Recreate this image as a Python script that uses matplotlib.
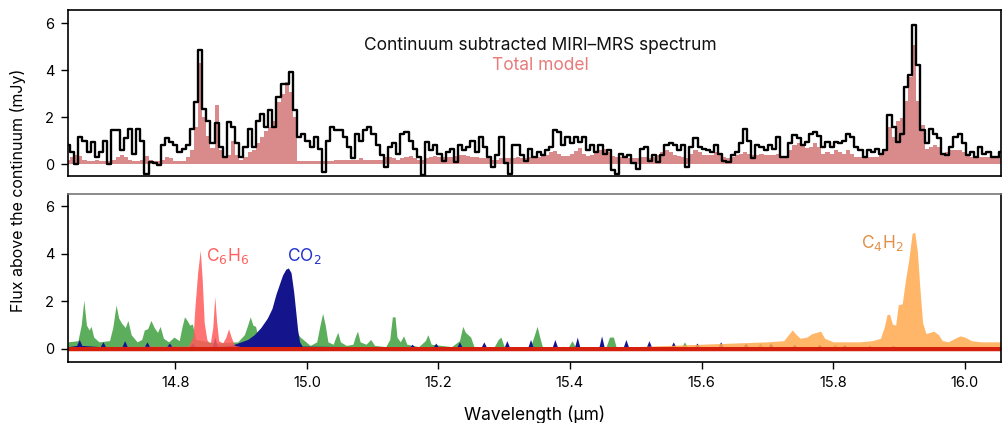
import numpy as np
import matplotlib.pyplot as plt

plt.rcParams['font.family'] = ['Inter', 'DejaVu Sans']

# wavelength grid of the extracted spectrum (µm)
wl_start, wl_stop, n_chan = 14.637, 16.055, 227

# continuum subtracted MIRI-MRS spectrum (mJy)
obs_flux = [
    0.8, 0.5, 0.0, 1.15, 1.0, 0.5, 0.95, 0.3, 0.5, 1.0,
    0.0, 1.45, 1.45, 0.6, 1.1, 1.5, 0.45, 1.5, 1.0, -0.4,
    0.1, 0.05, -0.05, 0.8, 1.1, 0.95, 0.8, 0.5, 0.65, 0.8,
    1.5, 2.65, 4.85, 2.35, 1.85, 0.9, 1.75, 0.75, 0.3, 1.8,
    1.6, 0.9, 0.3, 0.75, 1.5, 0.75,
    1.85, 2.15, 1.6, 2.3, 1.6, 2.85, 3.4, 3.4, 3.9, 2.3,
    1.15, 1.3, 1.0, 0.75, 1.15, 0.65, -0.35, 1.0, 1.6, 1.45,
    1.45, 1.15, 0.75, 0.25, 1.3, 1.0, 1.45, 1.6, 1.3, 0.8,
    0.4, -0.1, 0.75, 0.9, 0.45, 1.3, 1.35, 1.0, 0.65, 0.3,
    -0.45, 0.95, 0.6, 0.8, 0.45,
    0.15, 0.5, 0.65, 0.1, 0.8, 0.6, 0.75, 1.0, 0.5, 1.15,
    0.75, 0.3, -0.1, 0.4, 1.15, 0.05, -0.4, 0.8, 0.8, 0.4,
    0.15, 0.65, 0.3, 0.5, 0.4, 0.6, 0.75, 1.45, 1.35, 0.8,
    1.15, 0.9, 1.15, 0.95, 1.15, 0.6, 0.8, 0.5, 0.8, 0.45,
    0.6, -0.25, -0.4, 0.45, 0.3,
    0.4, 0.05, -0.2, 0.65, 0.75, 0.15, 0.4, 0.1, 0.4, 0.8,
    0.9, 0.8, 0.6, 0.8, -0.1, 0.75, 1.1, 0.75, 0.65, 0.6,
    0.5, 0.8, 0.45, 0.15, 0.1, 0.4, 0.5, 0.9, 1.5, 1.0,
    0.25, 0.8, 0.75, 0.6, 0.8, 0.65, 1.15, 0.3, 0.3, 0.9,
    1.25, 1.1, 0.8, 0.95, 1.3,
    1.35, 1.2, 0.75, 0.95, 0.75, 0.95, 0.9, 1.0, 1.3, 1.15,
    0.75, 0.6, 0.3, 0.6, 0.5, 0.65, 0.45, 0.6, 2.1, 1.6,
    0.95, 1.3, 3.3, 3.8, 5.9, 4.2, 1.45, 0.9, 1.5, 1.3,
    1.1, 0.45, 0.4, 0.75, 1.15, 1.3, 0.9, 0.4, 0.5, 0.3,
    0.75, 0.45, 0.5, 0.3, 0.3, 0.5,
]

# total slab model (mJy)
model_flux = [
    0.2, 0.3, 0.4, 0.35, 0.2, 0.15, 0.15, 0.2, 0.15, 0.15,
    0.15, 0.2, 0.3, 0.4, 0.3, 0.2, 0.15, 0.15, 0.2, 0.35,
    0.2, 0.15, 0.15, 0.2, 0.3, 0.25, 0.15, 0.15, 0.15, 0.3,
    0.6, 1.6, 4.3, 2.0, 1.2, 0.7, 2.5, 0.6, 0.25, 0.4,
    1.0, 0.4, 0.2, 0.3, 0.5, 0.6,
    0.9, 1.15, 1.4, 1.6, 1.85, 2.65, 3.0, 3.5, 3.05, 2.0,
    0.15, 0.15, 0.15, 0.15, 0.15, 0.15, 0.15, 0.15, 0.15, 0.2,
    0.2, 0.2, 0.2, 0.2, 0.2, 0.25, 0.2, 0.2, 0.2, 0.2,
    0.2, 0.3, 0.3, 0.25, 0.2, 0.25, 0.3, 0.35, 0.25, 0.2,
    0.2, 0.25, 0.3, 0.35, 0.3,
    0.3, 0.3, 0.3, 0.35, 0.4, 0.4, 0.35, 0.3, 0.3, 0.25,
    0.25, 0.25, 0.2, 0.2, 0.25, 0.25, 0.25, 0.25, 0.3, 0.25,
    0.25, 0.3, 0.3, 0.3, 0.35, 0.4, 0.5, 0.55, 0.45, 0.35,
    0.35, 0.45, 0.55, 0.7, 0.45, 0.35, 0.4, 0.5, 0.6, 0.65,
    0.5, 0.35, 0.3, 0.3, 0.35,
    0.25, 0.25, 0.25, 0.3, 0.3, 0.25, 0.3, 0.4, 0.5, 0.6,
    0.5, 0.4, 0.35, 0.3, 0.25, 0.45, 0.6, 0.5, 0.4, 0.4,
    0.4, 0.5, 0.45, 0.3, 0.25, 0.3, 0.4, 0.45, 0.5, 0.45,
    0.4, 0.4, 0.45, 0.4, 0.4, 0.4, 0.45, 0.35, 0.35, 0.6,
    0.8, 0.9, 0.8, 0.7, 0.75,
    0.9, 0.75, 0.45, 0.5, 0.45, 0.6, 0.5, 0.45, 0.6, 0.45,
    0.3, 0.3, 0.3, 0.3, 0.3, 0.3, 0.4, 0.6, 1.6, 1.15,
    1.85, 1.95, 2.7, 3.7, 5.05, 2.7, 1.65, 0.65, 0.75, 0.8,
    0.75, 0.45, 0.5, 0.6, 0.6, 0.6, 0.5, 0.4, 0.3, 0.3,
    0.3, 0.3, 0.3, 0.25, 0.3, 0.3,
]

# individual molecular contributions (wavelength in µm, flux in mJy)
h2o_wl = [14.637, 14.652, 14.657, 14.661, 14.665, 14.669, 14.672, 14.676, 14.684,
          14.700, 14.705, 14.710, 14.714, 14.718, 14.724, 14.728, 14.733, 14.742,
          14.749, 14.753, 14.758, 14.763, 14.768, 14.773, 14.777, 14.782, 14.790,
          14.798, 14.806, 14.810, 14.814, 14.818, 14.822, 14.826, 14.831, 14.860,
          14.895, 14.905, 14.910, 14.914, 14.918, 14.922, 14.926, 14.931, 14.945,
          14.965, 14.975, 14.990, 15.005, 15.015, 15.020, 15.024, 15.028, 15.032,
          15.040, 15.044, 15.047, 15.051, 15.060, 15.070, 15.074, 15.077, 15.081,
          15.090, 15.097, 15.103, 15.120, 15.126, 15.130, 15.134, 15.137, 15.142,
          15.147, 15.152, 15.170, 15.180, 15.184, 15.189, 15.220, 15.232, 15.237,
          15.241, 15.249, 15.254, 15.285, 15.291, 15.295, 15.300, 15.340, 15.346,
          15.350, 15.354, 15.358, 15.398, 15.403, 15.408, 15.455, 15.460, 15.466,
          15.470, 15.570, 15.574, 15.578, 15.685, 15.689, 15.693, 15.799, 15.803,
          15.806, 16.055]
h2o_flux = [0.3, 0.35, 1.0, 2.05, 1.0, 0.8, 0.95, 0.5, 0.3,
            0.35, 0.9, 1.85, 1.3, 1.1, 0.9, 1.2, 0.6, 0.3,
            0.4, 0.8, 0.85, 1.2, 0.9, 0.7, 0.95, 0.45, 0.3,
            0.5, 0.35, 0.9, 1.35, 1.2, 1.0, 1.05, 0.4, 0.25,
            0.3, 0.6, 1.0, 1.35, 1.0, 0.95, 0.5, 0.5, 0.7,
            0.8, 1.05, 0.5, 0.15, 0.3, 1.0, 1.5, 1.0, 0.3,
            0.2, 0.5, 0.7, 0.3, 0.15, 0.2, 0.55, 0.75, 0.3,
            0.2, 0.4, 0.15, 0.1, 0.4, 1.35, 1.35, 0.5, 0.3,
            0.55, 0.2, 0.1, 0.35, 0.6, 0.2, 0.1, 0.35, 0.95,
            0.7, 0.5, 0.1, 0.1, 0.4, 0.5, 0.1, 0.1, 0.6,
            0.95, 0.5, 0.1, 0.1, 0.35, 0.1, 0.1, 0.5, 0.5,
            0.1, 0.1, 0.3, 0.1, 0.1, 0.25, 0.1, 0.1, 0.2,
            0.1, 0.1]

co2_wl = [14.637, 14.650, 14.654, 14.658, 14.686, 14.690, 14.694, 14.719, 14.723,
          14.727, 14.753, 14.757, 14.761, 14.787, 14.791, 14.795, 14.822, 14.826,
          14.830, 14.856, 14.860, 14.864, 14.880, 14.890, 14.900, 14.910, 14.920,
          14.930, 14.940, 14.947, 14.953, 14.958, 14.963, 14.968, 14.972, 14.976,
          14.980, 14.983, 14.986, 14.989, 14.993, 15.156, 15.160, 15.164, 15.192,
          15.196, 15.200, 15.228, 15.232, 15.236, 15.265, 15.269, 15.273, 15.300,
          15.304, 15.308, 15.336, 15.340, 15.344, 15.373, 15.377, 15.381, 15.407,
          15.411, 15.415, 15.444, 15.448, 15.452, 15.481, 15.485, 15.489, 15.516,
          15.520, 15.524, 15.553, 15.557, 15.561, 15.589, 15.593, 15.597, 15.625,
          15.629, 15.633, 15.663, 15.667, 15.671, 15.701, 15.705, 15.709, 15.737,
          15.741, 15.745, 15.775, 15.779, 15.783, 15.813, 15.817, 15.821, 15.851,
          15.855, 15.859, 15.887, 15.891, 15.895, 16.055]
co2_flux = [0.1, 0.15, 0.4, 0.15, 0.1, 0.3, 0.1, 0.1, 0.35,
            0.1, 0.1, 0.3, 0.1, 0.1, 0.25, 0.1, 0.1, 0.25,
            0.1, 0.1, 0.5, 0.1, 0.15, 0.2, 0.3, 0.4, 0.6,
            0.9, 1.3, 1.7, 2.3, 2.7, 3.1, 3.35, 3.4, 3.2,
            2.4, 1.6, 0.8, 0.3, 0.12, 0.08, 0.2, 0.08, 0.08,
            0.25, 0.08, 0.08, 0.3, 0.08, 0.08, 0.3, 0.08, 0.08,
            0.35, 0.08, 0.08, 0.4, 0.08, 0.08, 0.4, 0.08, 0.08,
            0.5, 0.08, 0.08, 0.55, 0.08, 0.08, 0.4, 0.08, 0.08,
            0.35, 0.08, 0.08, 0.3, 0.08, 0.08, 0.25, 0.08, 0.08,
            0.3, 0.08, 0.08, 0.25, 0.08, 0.08, 0.25, 0.08, 0.08,
            0.2, 0.08, 0.08, 0.2, 0.08, 0.08, 0.18, 0.08, 0.08,
            0.15, 0.08, 0.08, 0.15, 0.08, 0.08]

c6h6_wl = [14.637, 14.820, 14.827, 14.830, 14.834, 14.838, 14.841, 14.844, 14.848,
           14.853, 14.857, 14.860, 14.863, 14.866, 14.872, 14.877, 14.881, 14.885,
           14.890, 14.900, 16.055]
c6h6_flux = [0.1, 0.12, 0.5, 1.8, 3.2, 4.15, 2.9, 1.1, 0.4,
             0.2, 0.9, 2.2, 1.1, 0.35, 0.25, 0.5, 0.85, 0.5,
             0.15, 0.1, 0.1]

c4h2_wl = [14.637, 15.450, 15.500, 15.550, 15.600, 15.650, 15.700, 15.725, 15.732,
           15.738, 15.744, 15.750, 15.760, 15.768, 15.775, 15.781, 15.787, 15.800,
           15.840, 15.860, 15.872, 15.878, 15.882, 15.886, 15.890, 15.895, 15.899,
           15.905, 15.910, 15.915, 15.920, 15.924, 15.928, 15.932, 15.936, 15.941,
           15.948, 15.953, 15.960, 15.966, 15.975, 15.985, 15.993, 16.000, 16.010,
           16.025, 16.055]
c4h2_flux = [0.0, 0.0, 0.1, 0.15, 0.2, 0.25, 0.3, 0.35, 0.6,
             0.8, 0.6, 0.45, 0.5, 0.65, 0.7, 0.75, 0.45, 0.3,
             0.3, 0.35, 0.45, 0.95, 1.45, 1.45, 1.05, 1.0, 1.85,
             1.9, 2.9, 3.75, 4.85, 4.9, 4.1, 2.5, 1.1, 0.65,
             0.7, 0.75, 0.6, 0.35, 0.3, 0.45, 0.55, 0.5, 0.35,
             0.3, 0.3]

hcn_wl = [14.637, 16.055]
hcn_flux = [0.1, 0.1]

wl = np.linspace(wl_start, wl_stop, n_chan)

fig = plt.figure(figsize=(10.02, 4.23), dpi=100)
ax1 = fig.add_axes([0.0679, 0.584, 0.931, 0.392])
ax2 = fig.add_axes([0.0679, 0.144, 0.931, 0.397])

# top: data vs total model
ax1.fill_between(wl, 0, model_flux, step='mid', color='#d98a8a', lw=0)
ax1.step(wl, obs_flux, where='mid', color='black', lw=1.7)
ax1.text(15.355, 5.05, 'Continuum subtracted MIRI\u2013MRS spectrum',
         ha='center', va='center', fontsize=12.5, color='#111111')
ax1.text(15.355, 4.2, 'Total model', ha='center', va='center',
         fontsize=12.5, color='#e87a7a')
ax1.set_xticks([])

# bottom: single molecule slabs
ax2.fill_between(h2o_wl, 0, h2o_flux, color='#5cae5c', lw=0)
ax2.fill_between(co2_wl, 0, co2_flux, color='#14148c', lw=0)
ax2.fill_between(c6h6_wl, 0, c6h6_flux, color='#ff5a5a', alpha=0.85, lw=0)
ax2.fill_between(c4h2_wl, 0, c4h2_flux, color='#ffa94d', alpha=0.85, lw=0)
ax2.fill_between(hcn_wl, 0, hcn_flux, color='#d4200c', lw=0)
ax2.plot(hcn_wl, [0.02, 0.02], color='#d4200c', lw=2.5)

ax2.text(14.847, 3.9, r'C$_6$H$_6$', ha='left', va='center', fontsize=12.5,
         color='#ff6060')
ax2.text(14.970, 3.9, r'CO$_2$', ha='left', va='center', fontsize=12.5,
         color='#2233cc')
ax2.text(15.907, 4.45, r'C$_4$H$_2$', ha='right', va='center', fontsize=12.5,
         color='#e0904a')
ax2.set_xticks([14.8, 15.0, 15.2, 15.4, 15.6, 15.8, 16.0])
ax2.set_xticklabels(['14.8', '15.0', '15.2', '15.4', '15.6', '15.8', '16.0'])
ax2.set_xlabel('Wavelength (\u00b5m)', fontsize=12.5, labelpad=11)
ax2.spines['top'].set_color('#777777')

for ax, yl in ((ax1, (-0.5, 6.55)), (ax2, (-0.55, 6.5))):
    ax.set_xlim(wl_start, wl_stop)
    ax.set_ylim(*yl)
    ax.set_yticks([0, 2, 4, 6])
    ax.tick_params(labelsize=10.5, length=5, width=1, pad=5)
    for s in ax.spines.values():
        s.set_linewidth(1.2)

fig.text(0.018, 0.55, 'Flux above the continuum (mJy)', rotation=90,
         ha='center', va='center', fontsize=11.5)

fig.savefig('out.png', dpi=100)
